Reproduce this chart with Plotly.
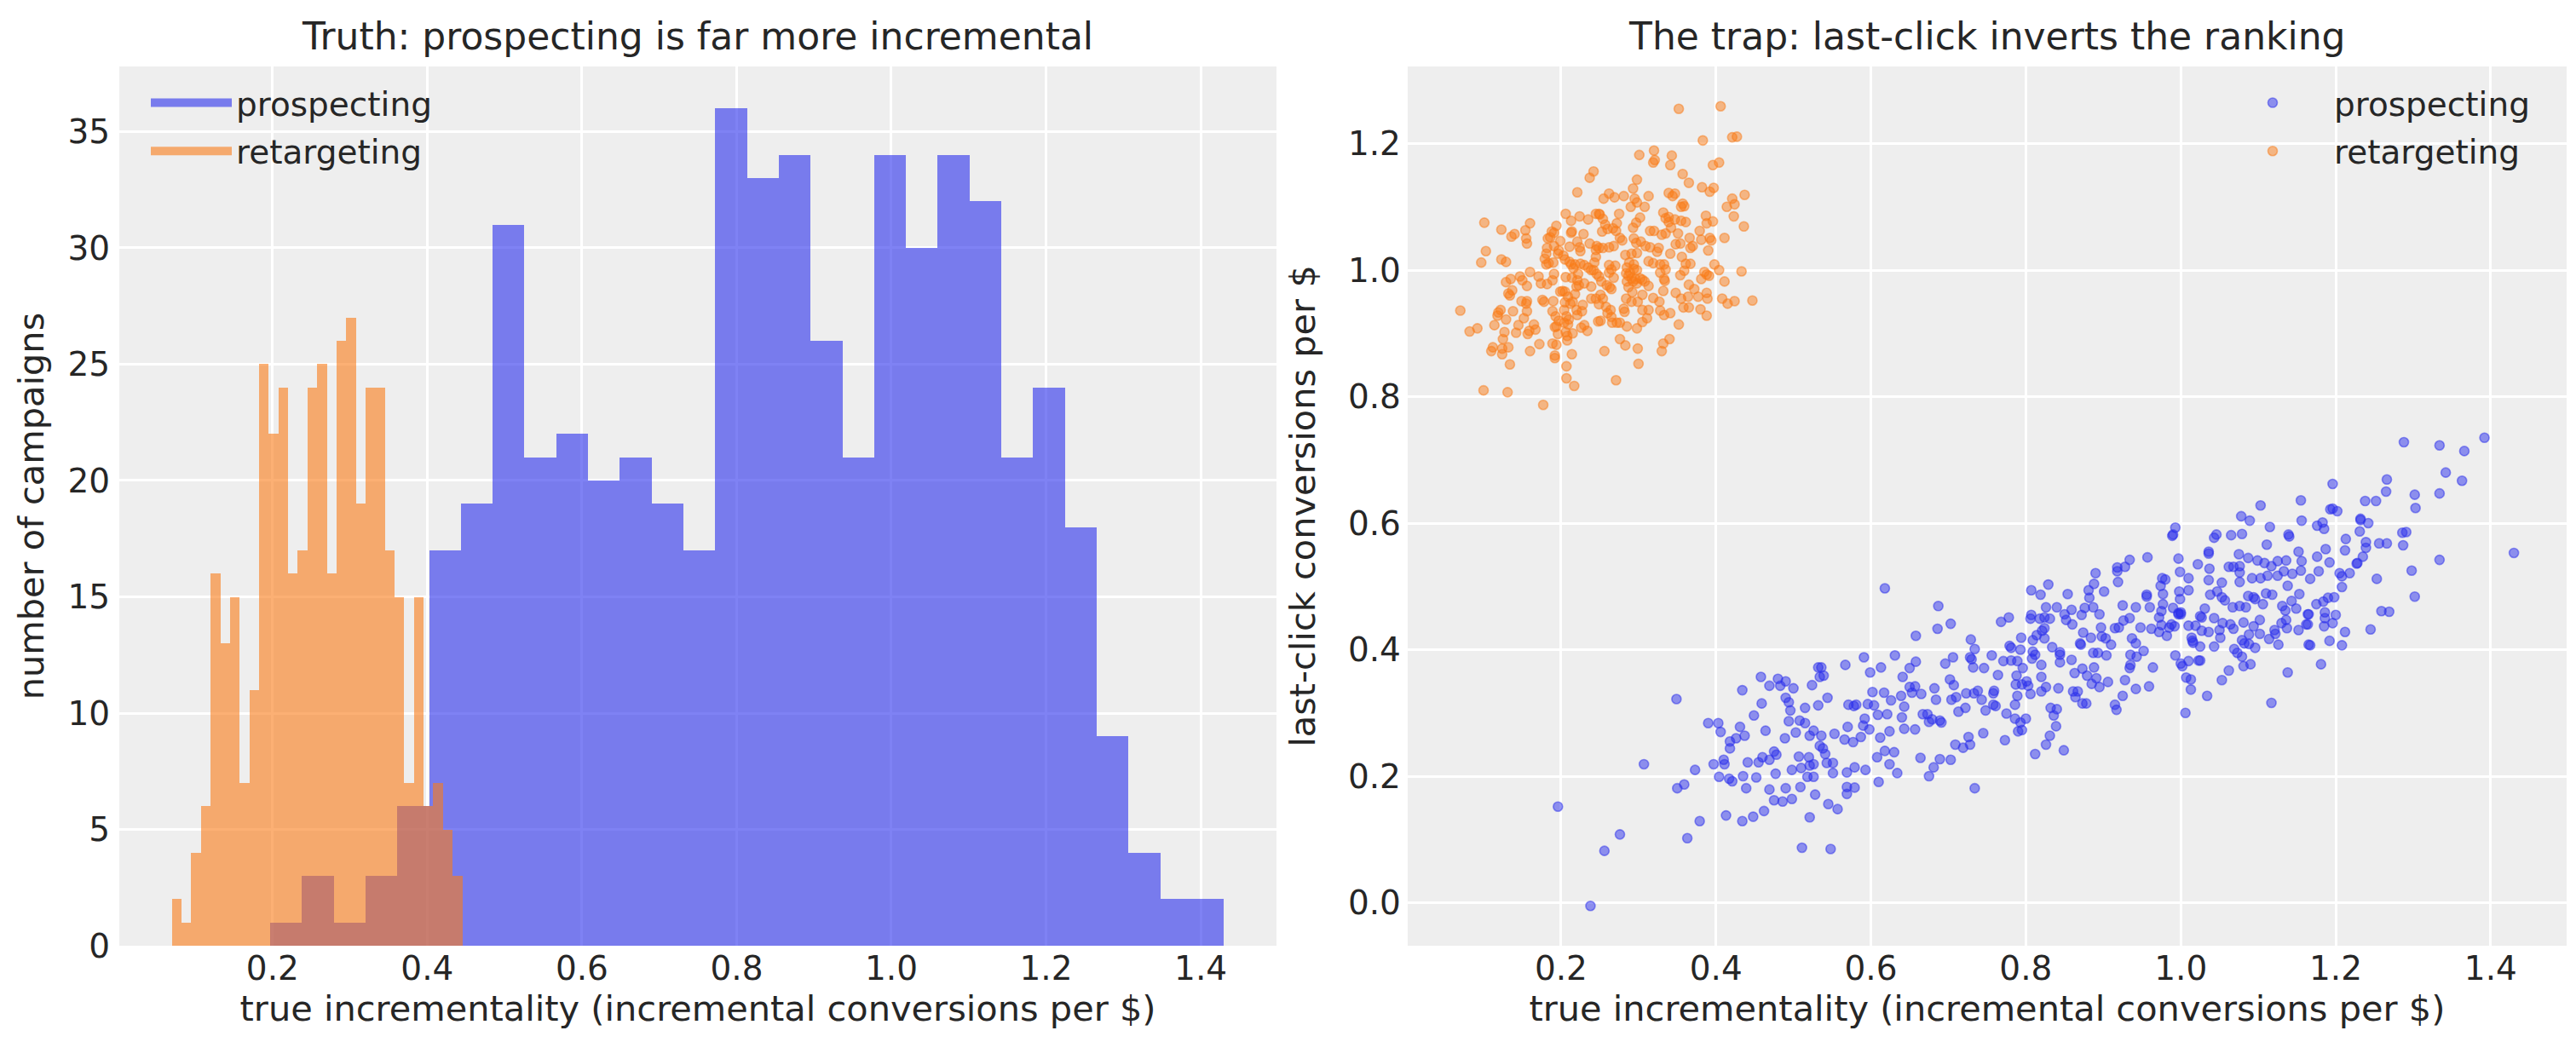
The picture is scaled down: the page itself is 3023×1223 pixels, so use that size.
import numpy as np
import plotly.graph_objects as go

# --- histogram (30 bins per group) ---
prosp_range = (0.197, 1.430)
prosp_counts = [1, 3, 1, 3, 6, 17, 19, 31, 21, 22, 20, 21, 19, 17, 36,
                33, 34, 26, 21, 34, 30, 34, 32, 21, 24, 18, 9, 4, 2, 2]
retar_range = (0.070, 0.4455)
retar_counts = [2, 1, 4, 6, 16, 13, 15, 7, 11, 25, 22, 24, 16, 17, 24,
                25, 16, 26, 27, 19, 24, 24, 17, 15, 7, 15, 6, 7, 5, 3]

# --- scatter: true incrementality vs last-click conversions ---
prosp_x = [
    0.196, 0.238, 0.256, 0.276, 0.307, 0.349, 0.363, 0.379, 0.350, 0.359, 0.373,
    0.390, 0.403, 0.406, 0.397, 0.410, 0.411, 0.404, 0.417, 0.421,
    0.418, 0.426, 0.418, 0.431, 0.437, 0.434, 0.413, 0.434, 0.448, 0.462,
    0.439, 0.435, 0.452, 0.441, 0.455, 0.460, 0.469, 0.464, 0.449, 0.459,
    0.458, 0.469, 0.480, 0.490, 0.500, 0.483, 0.490, 0.494, 0.496, 0.494,
    0.508, 0.515, 0.503, 0.489, 0.475, 0.478, 0.477, 0.469, 0.490, 0.509,
    0.475, 0.486, 0.498, 0.498, 0.510, 0.521, 0.526, 0.507, 0.520,
    0.518, 0.526, 0.528, 0.521, 0.511, 0.515, 0.524, 0.532, 0.532, 0.534, 0.521, 0.526, 0.534, 0.548,
    0.618, 0.687, 0.686, 0.703, 0.658, 0.591, 0.567, 0.613, 0.599,
    0.631, 0.641, 0.650, 0.658, 0.696, 0.706, 0.729, 0.734, 0.728, 0.730, 0.732,
    0.746, 0.756, 0.764, 0.768, 0.778, 0.771, 0.781, 0.789, 0.796,
    0.779, 0.781, 0.794, 0.793, 0.788, 0.787, 0.795, 0.801, 0.803, 0.806, 0.789, 0.786,
    0.807, 0.819, 0.829, 0.826, 0.840, 0.854, 0.807, 0.806, 0.818, 0.824, 0.831,
    0.824, 0.821, 0.814, 0.809, 0.824, 0.834, 0.809, 0.812, 0.808, 0.820,
    0.820, 0.826, 0.820, 0.842, 0.844, 0.844, 0.844, 0.859, 0.850, 0.852, 0.859, 0.860,
    0.863, 0.861, 0.864, 0.832, 0.840, 0.836, 0.839, 0.831, 0.826, 0.849, 0.812,
    0.800, 0.793, 0.790, 0.795, 0.786, 0.775, 0.773, 0.745, 0.734, 0.726, 0.728, 0.719, 0.709,
    0.703, 0.689, 0.681, 0.675, 0.664, 0.634, 0.624, 0.630, 0.618, 0.608, 0.610,
    0.593, 0.579, 0.569, 0.551, 0.543, 0.551, 0.569, 0.579, 0.569, 0.545, 0.557,
    0.538, 0.541, 0.536, 0.553, 0.566, 0.577, 0.587, 0.570, 0.590, 0.592, 0.598, 0.612, 0.624, 0.643, 0.657,
    0.609, 0.621, 0.640, 0.643, 0.639, 0.571, 0.578, 0.581, 0.596, 0.604, 0.602, 0.617, 0.626,
    0.544, 0.536, 0.539, 0.650, 0.657, 0.653, 0.665, 0.667, 0.673, 0.675, 0.679, 0.689, 0.691,
    0.682, 0.684, 0.702, 0.707, 0.704, 0.710, 0.713, 0.722, 0.723, 0.733, 0.738, 0.743,
    0.748, 0.758, 0.761, 0.759, 0.758,
    1.155, 1.103, 1.156, 1.078, 1.089, 1.115, 1.111, 1.139, 1.140, 1.152, 1.156,
    0.993, 0.990, 0.989, 1.046, 1.043, 1.065, 1.079, 1.036, 1.036, 1.075, 1.087, 1.099,
    0.997, 1.022, 1.037, 1.062, 1.068, 1.076, 1.076, 1.076, 1.092, 1.103, 1.112, 1.108, 1.117,
    1.125, 1.136, 1.133, 1.144, 1.155, 1.125, 1.138, 1.153, 1.143, 1.149,
    0.999, 1.010, 1.036, 1.053, 0.976, 0.980, 0.974, 0.977, 0.998, 0.999, 1.010,
    1.038, 1.047, 1.053, 1.057, 1.087, 1.094, 1.096, 1.110, 1.118,
    1.106, 1.076, 1.084, 1.067, 1.031, 1.025, 1.027,
    0.990, 0.997, 1.000, 0.977, 0.975, 0.972, 0.960, 0.956, 0.956,
    0.942, 0.925, 0.934, 0.928, 0.918, 0.918, 0.919, 0.957,
    0.901, 0.890, 0.888, 0.881, 0.882, 0.887, 0.876, 0.895, 0.872,
    1.043, 1.054, 1.064, 1.068, 1.081, 1.102, 1.131, 1.135, 1.136, 1.137, 1.130,
    1.152, 1.121, 1.114, 1.122, 1.126, 1.102, 1.094, 1.088, 1.079, 1.088, 1.096, 1.082,
    1.165, 1.162, 1.165, 1.069, 1.073, 1.079, 1.081, 1.090, 1.062, 1.053, 1.034, 1.006, 1.117, 1.138,
    1.043, 1.051, 1.050, 1.036, 1.027, 1.019, 1.010,
    1.014, 1.015, 1.016, 1.025, 1.023, 1.025, 1.010, 0.993, 1.000, 1.002, 1.007, 1.013, 1.013,
    0.997, 1.000, 0.988, 0.992, 0.985, 0.982, 0.972, 0.962, 0.948, 0.975,
    0.934, 0.926, 0.920, 0.915, 0.897, 0.874, 0.884, 0.898, 0.903, 0.910, 0.871, 0.870,
    0.937, 0.942, 0.952, 0.935, 0.943, 0.935, 0.934, 0.964, 0.887, 0.893, 0.904,
    0.888, 0.873, 0.879, 0.885, 0.891, 0.895, 0.906, 0.928, 0.942, 0.959, 0.925, 0.915, 0.917, 0.873, 0.878, 0.867,
    1.392, 1.288, 1.334, 1.366, 1.342, 1.363, 1.196, 1.266, 1.265, 1.302, 1.303, 1.334,
    1.238, 1.252, 1.193, 1.196, 1.202, 1.232, 1.232, 1.242, 1.176, 1.183, 1.185,
    1.231, 1.213, 1.212, 1.187, 1.176, 1.192, 1.178, 1.167, 1.239, 1.239, 1.235, 1.228, 1.227,
    1.256, 1.266, 1.286, 1.291, 1.287, 1.334, 1.298, 1.302, 1.253, 1.205, 1.208, 1.218, 1.208,
    1.175, 1.184, 1.190, 1.198, 1.164, 1.164, 1.186, 1.186, 1.200, 1.185, 1.196,
    1.259, 1.269, 1.245, 1.212, 1.192, 1.208, 1.167, 1.181, 1.430,
]
prosp_y = [
    0.152, -0.005, 0.082, 0.108, 0.219, 0.322, 0.102, 0.129, 0.181, 0.187, 0.210,
    0.284, 0.284, 0.270, 0.219, 0.226, 0.219, 0.199, 0.196, 0.192,
    0.255, 0.260, 0.244, 0.278, 0.264, 0.336, 0.138, 0.129, 0.136, 0.145,
    0.181, 0.200, 0.198, 0.222, 0.222, 0.230, 0.226, 0.272, 0.296, 0.315,
    0.357, 0.343, 0.354, 0.350, 0.339, 0.343, 0.324, 0.317, 0.304, 0.287,
    0.288, 0.284, 0.269, 0.260, 0.239, 0.234, 0.204, 0.179, 0.181, 0.183,
    0.162, 0.160, 0.164, 0.210, 0.213, 0.217, 0.219, 0.231, 0.230,
    0.199, 0.199, 0.171, 0.135, 0.087, 0.308, 0.344, 0.312, 0.372, 0.357, 0.264, 0.272, 0.248, 0.085,
    0.497, 0.469, 0.433, 0.441, 0.422, 0.388, 0.376, 0.372, 0.364,
    0.391, 0.357, 0.371, 0.381, 0.378, 0.388, 0.416, 0.401, 0.388, 0.385, 0.372,
    0.371, 0.391, 0.360, 0.444, 0.451, 0.382, 0.383, 0.382, 0.371,
    0.406, 0.403, 0.419, 0.400, 0.359, 0.345, 0.345, 0.350, 0.343, 0.330, 0.327, 0.313,
    0.494, 0.487, 0.503, 0.467, 0.467, 0.488, 0.455, 0.449, 0.449, 0.451, 0.449,
    0.434, 0.430, 0.423, 0.415, 0.418, 0.404, 0.397, 0.392, 0.386, 0.376,
    0.357, 0.341, 0.334, 0.339, 0.396, 0.392, 0.380, 0.384, 0.456, 0.447, 0.463, 0.440,
    0.363, 0.334, 0.325, 0.308, 0.306, 0.296, 0.279, 0.264, 0.250, 0.241, 0.235,
    0.291, 0.285, 0.271, 0.273, 0.291, 0.299, 0.257, 0.268, 0.181, 0.262, 0.250, 0.245, 0.250,
    0.226, 0.227, 0.214, 0.200, 0.229, 0.205, 0.219, 0.238, 0.240, 0.230, 0.191,
    0.210, 0.214, 0.206, 0.221, 0.221, 0.205, 0.183, 0.182, 0.172, 0.156, 0.148,
    0.244, 0.235, 0.264, 0.267, 0.258, 0.254, 0.262, 0.278, 0.280, 0.291, 0.274, 0.261, 0.271, 0.275, 0.274,
    0.297, 0.298, 0.293, 0.310, 0.327, 0.313, 0.311, 0.313, 0.314, 0.312, 0.333, 0.332, 0.320,
    0.324, 0.372, 0.359, 0.341, 0.342, 0.332, 0.330, 0.298, 0.298, 0.286, 0.290, 0.288, 0.285,
    0.339, 0.321, 0.353, 0.344, 0.321, 0.325, 0.302, 0.308, 0.331, 0.331, 0.335, 0.321,
    0.304, 0.313, 0.311, 0.335, 0.331,
    0.636, 0.628, 0.604, 0.611, 0.604, 0.594, 0.566, 0.582, 0.579, 0.555, 0.540,
    0.593, 0.582, 0.580, 0.582, 0.577, 0.581, 0.583, 0.555, 0.552, 0.551, 0.545, 0.541,
    0.544, 0.535, 0.528, 0.531, 0.531, 0.532, 0.522, 0.507, 0.513, 0.513, 0.517, 0.537, 0.532,
    0.540, 0.541, 0.524, 0.520, 0.525, 0.517, 0.501, 0.488, 0.477, 0.465,
    0.523, 0.513, 0.510, 0.506, 0.513, 0.511, 0.501, 0.488, 0.492, 0.480, 0.494,
    0.487, 0.492, 0.483, 0.478, 0.485, 0.483, 0.480, 0.489, 0.487,
    0.472, 0.469, 0.467, 0.467, 0.465, 0.453, 0.451,
    0.466, 0.456, 0.459, 0.472, 0.461, 0.451, 0.467, 0.487, 0.484,
    0.467, 0.470, 0.542, 0.531, 0.530, 0.524, 0.507, 0.546,
    0.492, 0.521, 0.504, 0.494, 0.482, 0.467, 0.466, 0.456, 0.455,
    0.450, 0.442, 0.440, 0.433, 0.443, 0.447, 0.469, 0.462, 0.447, 0.434, 0.442,
    0.431, 0.431, 0.417, 0.425, 0.408, 0.425, 0.437, 0.424, 0.415, 0.409, 0.403, 0.410,
    0.456, 0.440, 0.408, 0.401, 0.395, 0.389, 0.374, 0.377, 0.367, 0.352, 0.327, 0.300, 0.316, 0.364,
    0.405, 0.419, 0.431, 0.428, 0.430, 0.438, 0.438,
    0.419, 0.414, 0.411, 0.405, 0.383, 0.383, 0.382, 0.391, 0.378, 0.374, 0.356, 0.353, 0.337,
    0.458, 0.456, 0.440, 0.437, 0.435, 0.422, 0.428, 0.433, 0.435, 0.439,
    0.450, 0.446, 0.435, 0.434, 0.435, 0.427, 0.419, 0.421, 0.418, 0.408, 0.408, 0.410,
    0.418, 0.410, 0.398, 0.392, 0.389, 0.376, 0.371, 0.372, 0.395, 0.395, 0.391,
    0.372, 0.370, 0.359, 0.346, 0.355, 0.341, 0.349, 0.352, 0.338, 0.342, 0.327, 0.313, 0.305, 0.315, 0.315, 0.334,
    0.735, 0.728, 0.723, 0.714, 0.680, 0.667, 0.662, 0.669, 0.650, 0.645, 0.624, 0.647,
    0.635, 0.635, 0.622, 0.623, 0.619, 0.607, 0.605, 0.600, 0.596, 0.601, 0.591,
    0.587, 0.575, 0.557, 0.559, 0.547, 0.538, 0.524, 0.512, 0.570, 0.561, 0.547, 0.537, 0.536,
    0.568, 0.568, 0.585, 0.586, 0.565, 0.542, 0.525, 0.484, 0.512, 0.521, 0.516, 0.521, 0.499,
    0.472, 0.476, 0.482, 0.483, 0.456, 0.440, 0.459, 0.450, 0.455, 0.437, 0.442,
    0.461, 0.460, 0.432, 0.428, 0.414, 0.407, 0.407, 0.377, 0.553,
]

retar_x = [
    0.352, 0.406, 0.383, 0.421, 0.427, 0.301, 0.320, 0.319, 0.321, 0.341, 0.343, 0.396, 0.404,
    0.242, 0.237, 0.357, 0.365, 0.298, 0.293, 0.221, 0.382, 0.392, 0.397, 0.437,
    0.262, 0.255, 0.269, 0.281, 0.313, 0.295, 0.298, 0.339, 0.347, 0.344, 0.357, 0.359, 0.355,
    0.421, 0.424, 0.414, 0.290, 0.308, 0.423, 0.436, 0.411, 0.433, 0.447,
    0.101, 0.123, 0.136, 0.140, 0.154, 0.155, 0.156, 0.160, 0.103, 0.097, 0.123, 0.129,
    0.070, 0.082, 0.092, 0.100, 0.131, 0.177, 0.134, 0.207, 0.207, 0.217, 0.271, 0.300, 0.299, 0.256, 0.276, 0.283,
    0.214, 0.192, 0.192, 0.189, 0.194, 0.208, 0.172, 0.160, 0.330, 0.332, 0.340, 0.352,
    0.110, 0.112, 0.124, 0.124, 0.132, 0.125, 0.114, 0.127, 0.142, 0.118, 0.122, 0.119,
    0.129, 0.138, 0.145, 0.157, 0.159, 0.167, 0.165, 0.156, 0.152, 0.156, 0.149, 0.155,
    0.132, 0.134, 0.137, 0.129, 0.135, 0.147, 0.150, 0.156, 0.160, 0.171, 0.174, 0.182, 0.191, 0.189,
    0.176, 0.178, 0.190, 0.189, 0.193, 0.197, 0.194, 0.192, 0.196, 0.202, 0.199, 0.205,
    0.209, 0.205, 0.212, 0.204, 0.207, 0.210, 0.204, 0.209, 0.206, 0.208, 0.215,
    0.220, 0.221, 0.227, 0.228, 0.230, 0.234, 0.226, 0.215, 0.218, 0.223, 0.220,
    0.206, 0.214, 0.221, 0.222, 0.230, 0.239, 0.213, 0.216, 0.211, 0.218, 0.225,
    0.205, 0.203, 0.196, 0.190, 0.184, 0.181, 0.179, 0.181, 0.182,
    0.183, 0.186, 0.188, 0.194, 0.191, 0.191, 0.199, 0.197,
    0.206, 0.213, 0.224, 0.235, 0.214, 0.213, 0.229, 0.221, 0.211, 0.224, 0.225,
    0.237, 0.246, 0.245, 0.249, 0.245, 0.249, 0.250, 0.254, 0.257, 0.253, 0.260, 0.267,
    0.272, 0.275, 0.271, 0.276, 0.279, 0.254, 0.262, 0.268, 0.245, 0.243,
    0.230, 0.235, 0.239, 0.242, 0.246, 0.249, 0.262, 0.270, 0.265, 0.262, 0.268,
    0.252, 0.259, 0.263, 0.265, 0.239, 0.245, 0.251, 0.254, 0.249, 0.258, 0.264, 0.260,
    0.248, 0.251, 0.265, 0.266, 0.272, 0.276, 0.282, 0.281, 0.285, 0.298, 0.305, 0.311, 0.313,
    0.284, 0.291, 0.299, 0.305, 0.285, 0.291, 0.296, 0.298, 0.305,
    0.284, 0.289, 0.294, 0.288, 0.294, 0.283, 0.291, 0.298, 0.287, 0.292, 0.305, 0.313,
    0.294, 0.297, 0.303, 0.293, 0.297, 0.302, 0.309, 0.315, 0.315, 0.320,
    0.313, 0.319, 0.324, 0.326, 0.328, 0.333, 0.335, 0.328, 0.330, 0.335, 0.332, 0.335,
    0.339, 0.339, 0.347, 0.355, 0.361, 0.342, 0.351, 0.354, 0.348, 0.341,
    0.356, 0.361, 0.367, 0.359, 0.354, 0.333, 0.334, 0.332,
    0.319, 0.327, 0.328, 0.333, 0.341, 0.348, 0.355, 0.358, 0.365, 0.364,
    0.365, 0.372, 0.377, 0.381, 0.388, 0.385, 0.391, 0.398, 0.404, 0.411,
    0.388, 0.389, 0.408, 0.415, 0.424, 0.380, 0.388,
    0.366, 0.370, 0.367, 0.379, 0.388, 0.387, 0.396, 0.381, 0.392, 0.394, 0.390,
    0.285, 0.287, 0.293, 0.298, 0.302, 0.308,
]
retar_y = [
    1.255, 1.259, 1.205, 1.210, 1.211, 1.182, 1.189, 1.170, 1.174, 1.166, 1.181, 1.166, 1.170,
    1.156, 1.146, 1.152, 1.138, 1.143, 1.129, 1.123, 1.131, 1.124, 1.130, 1.119,
    1.121, 1.113, 1.115, 1.117, 1.117, 1.113, 1.107, 1.122, 1.121, 1.117, 1.105, 1.101, 1.100,
    1.113, 1.104, 1.100, 1.100, 1.100, 1.085, 1.069, 1.051, 0.998, 0.952,
    1.075, 1.064, 1.053, 1.057, 1.063, 1.050, 1.042, 1.074, 1.030, 1.012, 1.017, 1.013,
    0.936, 0.903, 0.908, 0.810, 0.807, 0.787, 0.851, 0.848, 0.829, 0.817, 0.826, 0.852, 0.876, 0.872, 0.891, 0.881,
    0.867, 0.865, 0.861, 0.884, 0.882, 0.889, 0.883, 0.872, 0.872, 0.884, 0.891, 0.914,
    0.872, 0.878, 0.867, 0.876, 0.878, 0.891, 0.913, 0.902, 0.901, 0.928, 0.937, 0.933,
    0.922, 0.935, 0.913, 0.899, 0.904, 0.906, 0.914, 0.935, 0.924, 0.951, 0.951, 0.947,
    0.963, 0.960, 0.968, 0.981, 0.986, 0.990, 0.984, 0.975, 0.997, 0.990, 0.979, 0.978, 0.994, 0.984,
    0.953, 0.950, 0.951, 0.935, 0.927, 0.920, 0.911, 0.910, 0.899, 0.967, 0.966, 0.966,
    0.958, 0.949, 0.947, 0.937, 0.927, 0.922, 0.917, 0.914, 0.902, 0.896, 0.900,
    0.937, 0.929, 0.935, 0.945, 0.913, 0.904, 0.909, 0.950, 0.962, 0.976, 0.974,
    0.989, 0.988, 0.984, 0.994, 0.979, 0.974, 1.009, 1.003, 1.013, 1.009, 1.010,
    1.017, 1.023, 1.026, 1.012, 1.011, 1.009, 1.018, 1.026, 1.035,
    1.050, 1.052, 1.061, 1.070, 1.059, 1.038, 1.046, 1.031,
    1.089, 1.078, 1.085, 1.080, 1.061, 1.059, 1.057, 1.045, 1.037, 1.036, 1.030,
    1.042, 1.038, 1.032, 1.035, 1.089, 1.089, 1.088, 1.081, 1.072, 1.061, 1.065, 1.066,
    1.074, 1.089, 1.062, 1.051, 1.047, 1.035, 1.036, 1.038, 1.021, 1.012,
    1.008, 1.004, 1.000, 1.000, 0.994, 0.990, 1.008, 1.007, 1.001, 0.996, 0.988,
    0.982, 0.976, 0.973, 0.970, 0.955, 0.955, 0.961, 0.955, 0.946, 0.942, 0.937, 0.932,
    0.919, 0.920, 0.926, 0.917, 0.917, 0.917, 0.934, 0.939, 0.911, 0.908, 0.918, 0.924, 0.937,
    0.955, 0.950, 0.950, 0.937, 0.982, 0.987, 0.986, 0.979, 0.985,
    0.995, 0.996, 1.002, 1.012, 1.009, 1.024, 1.026, 1.027, 0.973, 0.965, 0.961, 0.975,
    1.050, 1.043, 1.045, 1.067, 1.075, 1.083, 1.038, 1.036, 1.062, 1.062,
    1.014, 1.011, 1.029, 1.035, 1.009, 1.009, 1.001, 0.996, 1.056, 1.058, 1.091, 1.082,
    1.084, 1.076, 1.080, 1.078, 1.076, 1.067, 1.058, 1.042, 1.041, 1.026,
    1.021, 1.010, 1.010, 0.999, 0.992, 0.986, 0.983, 0.967,
    0.956, 0.950, 0.936, 0.929, 0.932, 0.964, 0.955, 0.941, 0.941, 0.958,
    0.977, 0.970, 0.958, 0.986, 0.993, 0.997, 0.991, 1.009, 1.000, 0.982,
    0.964, 0.955, 0.955, 0.947, 0.951, 0.938, 0.928,
    1.051, 1.038, 1.035, 1.062, 1.074, 1.086, 1.077, 1.048, 1.051, 1.047, 1.031,
    1.004, 0.991, 0.982, 1.000, 0.987, 0.982,
]

groups = ["prospecting", "retargeting"]
blue = "42,46,236"
orange = "250,124,23"
ink = "#262626"
font = "DejaVu Sans"

fig = go.Figure()

for name, rng, counts, rgb in [(groups[0], prosp_range, prosp_counts, blue),
                               (groups[1], retar_range, retar_counts, orange)]:
    edges = np.linspace(rng[0], rng[1], len(counts) + 1)
    fig.add_trace(go.Bar(
        x=edges[:-1], y=counts, width=np.diff(edges), offset=0,
        name=name, legendgroup=name, showlegend=False,
        marker=dict(color=f"rgba({rgb},0.6)", line=dict(width=0)),
        xaxis="x", yaxis="y",
    ))
    # legend-only entry drawn as a wide patch, like matplotlib's hist legend
    fig.add_trace(go.Scatter(
        x=[None], y=[None], mode="lines", name=name, legendgroup=name,
        legend="legend", line=dict(color=f"rgba({rgb},0.6)", width=27),
        xaxis="x", yaxis="y", hoverinfo="skip",
    ))

for name, xs, ys, rgb in [(groups[0], prosp_x, prosp_y, blue),
                          (groups[1], retar_x, retar_y, orange)]:
    fig.add_trace(go.Scatter(
        x=xs, y=ys, mode="markers", name=name,
        legendgroup=name + "_sc", legend="legend2",
        marker=dict(size=11, color=f"rgba({rgb},0.5)",
                    line=dict(color=f"rgba({rgb},0.5)", width=1.6)),
        xaxis="x2", yaxis="y2",
    ))

axis_common = dict(
    showgrid=True, gridcolor="white", gridwidth=2.5, zeroline=False,
    showline=False, ticks="", automargin=False,
    tickfont=dict(family=font, size=39, color=ink),
)
xlabel = "true incrementality (incremental conversions per $)"

fig.update_layout(
    width=3023, height=1223,
    margin=dict(l=0, r=0, t=0, b=0),
    paper_bgcolor="white", plot_bgcolor="#eeeeee",
    font=dict(family=font, color=ink),
    barmode="overlay", bargap=0,
    xaxis=dict(domain=[0.0437, 0.4929], range=[0.002, 1.498], tick0=0.2, dtick=0.2,
               tickformat=".1f", anchor="y",
               title=dict(text=xlabel, font=dict(size=41.5), standoff=10),
               **axis_common),
    yaxis=dict(domain=[0.0989, 0.9428], range=[0, 37.8], dtick=5, anchor="x",
               ticklabelstandoff=10,
               title=dict(text="number of campaigns", font=dict(size=41.5), standoff=14),
               **axis_common),
    xaxis2=dict(domain=[0.5438, 0.9937], range=[0.002, 1.498], tick0=0.2, dtick=0.2,
                tickformat=".1f", anchor="y2",
                title=dict(text=xlabel, font=dict(size=41.5), standoff=10),
                **axis_common),
    yaxis2=dict(domain=[0.0989, 0.9428], range=[-0.068, 1.322], dtick=0.2,
                tickformat=".1f", anchor="x2", ticklabelstandoff=7,
                title=dict(text="last-click conversions per $", font=dict(size=41.5), standoff=25),
                **axis_common),
    legend=dict(x=164 / 3023, y=0.934, xanchor="left", yanchor="top",
                bgcolor="rgba(0,0,0,0)", itemwidth=95, tracegroupgap=3,
                font=dict(size=39, color=ink)),
    legend2=dict(x=2587 / 3023, y=0.934, xanchor="left", yanchor="top",
                 bgcolor="rgba(0,0,0,0)", itemwidth=134, tracegroupgap=3,
                 font=dict(size=39, color=ink)),
    annotations=[
        dict(text="Truth: prospecting is far more incremental", x=0.268, y=0.972,
             xref="paper", yref="paper", showarrow=False, xanchor="center", yanchor="middle",
             font=dict(size=44, color=ink)),
        dict(text="The trap: last-click inverts the ranking", x=0.7688, y=0.972,
             xref="paper", yref="paper", showarrow=False, xanchor="center", yanchor="middle",
             font=dict(size=44, color=ink)),
    ],
)

fig.write_html("out.html")
